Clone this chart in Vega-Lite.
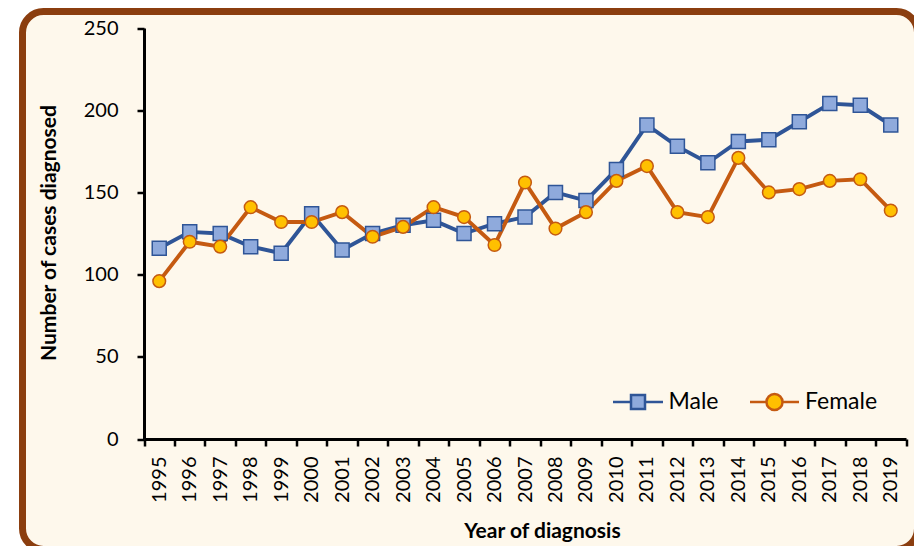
{
  "$schema": "https://vega.github.io/schema/vega-lite/v6.json",
  "autosize": {"type": "none"},
  "padding": {"left": 22.5, "top": 11.5, "right": -3.5, "bottom": -3.5},
  "width": 895,
  "height": 538,
  "background": "white",
  "config": {
    "view": {"stroke": "#8B3E0F", "strokeWidth": 7, "cornerRadius": 21, "fill": "#FEF8EC"},
    "axis": {
      "labelFont": "Lato", "labelFontSize": 20, "labelColor": "black",
      "titleFont": "Lato", "titleFontSize": 21, "titleFontWeight": "bold", "titleColor": "black",
      "domainColor": "black", "domainWidth": 3, "tickColor": "black", "tickWidth": 2.5, "tickSize": 7,
      "grid": false
    },
    "legend": {
      "orient": "none", "direction": "horizontal", "title": null,
      "symbolSize": 196, "labelFont": "Lato", "labelFontSize": 23, "labelColor": "black",
      "labelOffset": 19, "padding": 0, "symbolStrokeWidth": 2.5, "symbolOpacity": 1
    }
  },
  "data": {"values": [
    {"year": "1995", "sex": "Male", "n": 116}, {"year": "1996", "sex": "Male", "n": 126},
    {"year": "1997", "sex": "Male", "n": 125}, {"year": "1998", "sex": "Male", "n": 117},
    {"year": "1999", "sex": "Male", "n": 113}, {"year": "2000", "sex": "Male", "n": 137},
    {"year": "2001", "sex": "Male", "n": 115}, {"year": "2002", "sex": "Male", "n": 125},
    {"year": "2003", "sex": "Male", "n": 130}, {"year": "2004", "sex": "Male", "n": 133},
    {"year": "2005", "sex": "Male", "n": 125}, {"year": "2006", "sex": "Male", "n": 131},
    {"year": "2007", "sex": "Male", "n": 135}, {"year": "2008", "sex": "Male", "n": 150},
    {"year": "2009", "sex": "Male", "n": 145}, {"year": "2010", "sex": "Male", "n": 164},
    {"year": "2011", "sex": "Male", "n": 191}, {"year": "2012", "sex": "Male", "n": 178},
    {"year": "2013", "sex": "Male", "n": 168}, {"year": "2014", "sex": "Male", "n": 181},
    {"year": "2015", "sex": "Male", "n": 182}, {"year": "2016", "sex": "Male", "n": 193},
    {"year": "2017", "sex": "Male", "n": 204}, {"year": "2018", "sex": "Male", "n": 203},
    {"year": "2019", "sex": "Male", "n": 191},
    {"year": "1995", "sex": "Female", "n": 96}, {"year": "1996", "sex": "Female", "n": 120},
    {"year": "1997", "sex": "Female", "n": 117}, {"year": "1998", "sex": "Female", "n": 141},
    {"year": "1999", "sex": "Female", "n": 132}, {"year": "2000", "sex": "Female", "n": 132},
    {"year": "2001", "sex": "Female", "n": 138}, {"year": "2002", "sex": "Female", "n": 123},
    {"year": "2003", "sex": "Female", "n": 129}, {"year": "2004", "sex": "Female", "n": 141},
    {"year": "2005", "sex": "Female", "n": 135}, {"year": "2006", "sex": "Female", "n": 118},
    {"year": "2007", "sex": "Female", "n": 156}, {"year": "2008", "sex": "Female", "n": 128},
    {"year": "2009", "sex": "Female", "n": 138}, {"year": "2010", "sex": "Female", "n": 157},
    {"year": "2011", "sex": "Female", "n": 166}, {"year": "2012", "sex": "Female", "n": 138},
    {"year": "2013", "sex": "Female", "n": 135}, {"year": "2014", "sex": "Female", "n": 171},
    {"year": "2015", "sex": "Female", "n": 150}, {"year": "2016", "sex": "Female", "n": 152},
    {"year": "2017", "sex": "Female", "n": 157}, {"year": "2018", "sex": "Female", "n": 158},
    {"year": "2019", "sex": "Female", "n": 139}
  ]},
  "encoding": {
    "x": {
      "field": "year", "type": "ordinal",
      "scale": {"type": "band", "range": [121.5, 883.5], "paddingInner": 0, "paddingOuter": 0},
      "axis": {
        "title": "Year of diagnosis", "offset": -110.5, "labelAngle": -90, "tickBand": "extent",
        "labelPadding": 10, "titleX": 519.5, "titleY": 98, "titleBaseline": "alphabetic", "titleAlign": "center"
      }
    },
    "y": {
      "field": "n", "type": "quantitative",
      "scale": {"domain": [0, 250], "range": [427.5, 16.5], "nice": false, "zero": true},
      "axis": {
        "title": "Number of cases diagnosed", "offset": -121.5, "values": [0, 50, 100, 150, 200, 250],
        "labelPadding": 19, "titleX": -89, "titleY": 221, "titleAngle": -90,
        "titleBaseline": "alphabetic", "titleAlign": "center"
      }
    }
  },
  "layer": [
    {
      "mark": {"type": "line", "strokeWidth": 3.9},
      "encoding": {
        "stroke": {
          "field": "sex", "type": "nominal",
          "scale": {"domain": ["Male", "Female"], "range": ["#2F5597", "#C55A11"]},
          "legend": {
            "values": ["Male"], "legendX": 604, "legendY": 379,
            "symbolType": "M-3.57,0H-1M1,0H3.57M-1,-1H1V1H-1Z",
            "symbolFillColor": "#8FAADC"
          }
        }
      }
    },
    {
      "transform": [{"filter": "datum.sex === 'Male'"}],
      "mark": {"type": "point", "shape": "square", "filled": true, "fill": "#8FAADC", "opacity": 1, "strokeWidth": 1.5, "size": 196},
      "encoding": {
        "stroke": {"field": "sex", "type": "nominal"}
      }
    },
    {
      "transform": [{"filter": "datum.sex === 'Female'"}],
      "mark": {"type": "point", "shape": "circle", "filled": true, "stroke": "#C55A11", "opacity": 1, "strokeWidth": 1.5, "size": 160},
      "encoding": {
        "fill": {
          "field": "sex", "type": "nominal",
          "scale": {"domain": ["Female"], "range": ["#FFC000"]},
          "legend": {
            "legendX": 740.5, "legendY": 379,
            "symbolType": "M-3.5,0H-1.15M1.15,0H3.5M1.15,0A1.15,1.15,0,1,1,-1.15,0A1.15,1.15,0,1,1,1.15,0Z",
            "symbolStrokeColor": "#C55A11"
          }
        }
      }
    }
  ]
}
